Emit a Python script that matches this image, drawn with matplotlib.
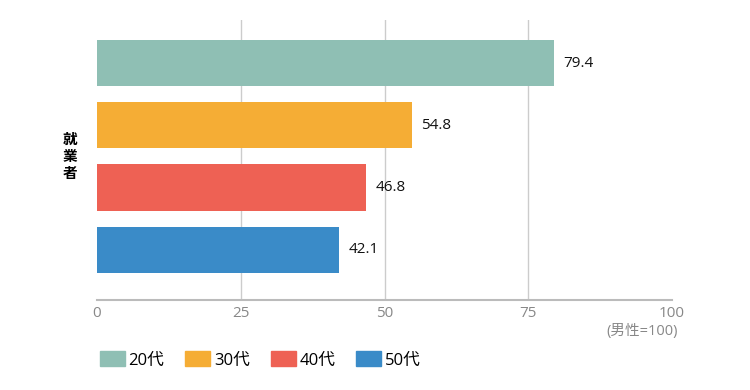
import matplotlib.pyplot as plt
from matplotlib.patches import Patch

plt.rcParams['font.family'] = ['Open Sans', 'Noto Sans CJK JP', 'DejaVu Sans']

groups = ['20代', '30代', '40代', '50代']
values = [79.4, 54.8, 46.8, 42.1]
colors = ['#8fbfb4', '#f5ad35', '#ee6154', '#3a8bc8']
xticks = [0, 25, 50, 75, 100]

fig = plt.figure(figsize=(7.5, 3.9), dpi=100)
ax = fig.add_axes([97 / 750, 1 - 299.5 / 390, 575 / 750, 279.5 / 390])

pos = list(range(len(values)))
ax.barh(pos, values, height=46 / 62, color=colors, zorder=3)
for p, v in zip(pos, values):
    ax.text(v + 1.6, p, f'{v}', va='center', ha='left', fontsize=11, color='#111111')

ax.set_xlim(0, 100)
ax.set_ylim(3.8, -0.694)
ax.set_xticks(xticks)
ax.set_xticklabels([str(t) for t in xticks], color='#888888', fontsize=11)
ax.set_yticks([])
ax.tick_params(axis='x', length=0, pad=5)
for t in [25, 50, 75]:
    ax.axvline(t, color='#cccccc', lw=1, zorder=1)
for s in ['top', 'right', 'left']:
    ax.spines[s].set_visible(False)
ax.spines['bottom'].set_color('#bbbbbb')
ax.spines['bottom'].set_linewidth(1.5)

fig.text(678 / 750, 1 - 332 / 390, '(男性=100)', ha='right', va='center', fontsize=10.5, color='#888888')
fig.text(70 / 750, 1 - 156 / 390, '就\n業\n者', ha='center', va='center', fontsize=10.5,
         fontweight='bold', linespacing=1.1, family='Noto Sans CJK JP')

handles = [Patch(color=c) for c in colors]
fig.legend(handles, groups, loc='center left', bbox_to_anchor=(100 / 750, 1 - 360 / 390), ncol=4,
           frameon=False, fontsize=12, handlelength=1.5, handleheight=1.0, columnspacing=1.28,
           handletextpad=0.2, borderpad=0, borderaxespad=0)

fig.savefig('out.png', dpi=100)
